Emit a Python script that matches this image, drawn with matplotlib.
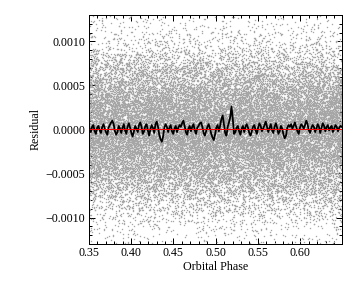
import numpy as np
import matplotlib
matplotlib.use("Agg")
import matplotlib.pyplot as plt
from matplotlib.ticker import MultipleLocator, FuncFormatter

# binned residual curve (phase bin centres, values in units of 1e-5)
bin_start = 0.35075
bin_width = 0.0015
binned_e5 = [1, -3, 3, 5, -2, -5, 2, 4, -1, -4,
             3, 6, 1, -3, -6, 2, 5, 8, 10, 6,
             -2, -6, -3, 4, 1, -4, 2, 6, -1, -5,
             3, 7, 2, -4, -8, -2, 4, 1, -3, 5,
             8, 3, -5, -2, 4, 6, -1, -7, 0, 5,
             2, -4, 6, 9, 3, -6, -11, -14, -8, 2,
             6, 3, -3, 2, 5, -2, -5, 1, 4, -3,
             2, 5, 3, 7, 10, 4, -3, -6, 1, 4,
             -2, 3, 6, -1, -5, 2, 4, 7, 8, 3,
             -4, -7, -2, 3, 6, 1, -5, -9, -12, -6,
             2, 5, -2, 4, 12, 16, 6, -4, -7, 3,
             8, 14, 26, 12, -5, -3, 2, 4, -2, -6,
             1, 4, -3, 3, 6, 2, -4, -7, -2, 3,
             5, -1, -5, 2, 7, 4, -2, 1, 5, 9,
             3, -3, 2, 6, -1, -4, 3, 7, 2, -5,
             -2, 4, 1, -6, -10, -7, 2, 5, 3, 6,
             1, 4, 8, 3, -2, -5, 2, 6, 4, 1,
             5, 10, 6, -1, -4, 2, 5, 3, -3, 1,
             6, 3, -4, 2, 7, 4, -2, 3, 5, -1,
             2, 4, -3, 1, 5, 3, -2, 2, 4, 3]

# raw residual cloud: individual points can't be read, only the spread
n_points = 30000
scatter_sigma = 0.00047

bin_phase = bin_start + bin_width * np.arange(len(binned_e5))
binned = np.array(binned_e5) * 1e-5

rng = np.random.default_rng(3)
phase = rng.uniform(0.34, 0.66, n_points)
resid = rng.normal(0.0, scatter_sigma, n_points)

plt.rcParams['font.family'] = ['Liberation Serif', 'DejaVu Serif']
plt.rcParams['font.size'] = 12

def fmt(dec):
    return FuncFormatter(lambda v, p: f"{v:.{dec}f}".replace('-', '\u2212'))

fig = plt.figure(figsize=(5, 4), dpi=72)
ax = fig.add_axes([0.247, 0.153, 0.703, 0.795])

ax.plot(phase, resid, ls='none', marker='s', ms=1.3, mew=0, color='#a6a6a6')
ax.plot(bin_phase, binned, color='black', lw=1.8)
ax.axhline(0, color='red', lw=1)

ax.set_xlim(0.35, 0.6495)
ax.set_ylim(-0.0013, 0.0013)
ax.xaxis.set_major_locator(MultipleLocator(0.05))
ax.xaxis.set_minor_locator(MultipleLocator(0.01))
ax.yaxis.set_major_locator(MultipleLocator(0.0005))
ax.yaxis.set_minor_locator(MultipleLocator(0.0001))
ax.yaxis.set_major_formatter(fmt(4))
ax.xaxis.set_major_formatter(fmt(2))
ax.tick_params(which='both', direction='in', top=True, right=True, width=1)
ax.tick_params(which='major', length=6)
ax.tick_params(which='minor', length=3)
for s in ax.spines.values():
    s.set_linewidth(1)

ax.set_xlabel("Orbital Phase", labelpad=2)
ax.set_ylabel("Residual")

fig.savefig("out.png", dpi=72)
